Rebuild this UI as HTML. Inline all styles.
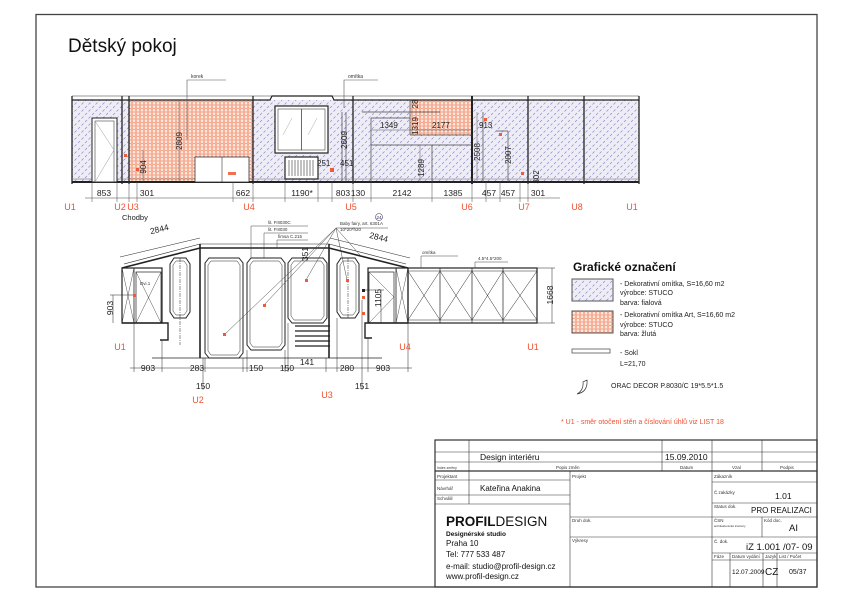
<!DOCTYPE html>
<html><head><meta charset="utf-8"><style>
html,body{margin:0;padding:0;background:#fff;}
svg{display:block;font-family:"Liberation Sans",Arial,sans-serif;}
</style></head><body>
<svg width="849" height="600" viewBox="0 0 849 600" xmlns="http://www.w3.org/2000/svg">
<defs>
<pattern id="pur" width="7" height="7" patternUnits="userSpaceOnUse">
<rect width="7" height="7" fill="#eeedf6"/>
<line x1="1" y1="3" x2="3" y2="1" stroke="#8f8ccc" stroke-width="0.7"/>
<line x1="4.5" y1="6.5" x2="6.5" y2="4.5" stroke="#8f8ccc" stroke-width="0.7"/>
</pattern>
<pattern id="ora" width="4" height="3.5" patternUnits="userSpaceOnUse">
<rect width="4" height="3.5" fill="#fde6dc"/>
<path d="M0,1.75 L1,0 L3,0 L4,1.75 L3,3.5 L1,3.5 Z" fill="none" stroke="#f29272" stroke-width="0.7"/>
</pattern>
</defs>

<rect x="36" y="14.5" width="781" height="572.5" fill="none" stroke="#444" stroke-width="1.3"/>
<text x="68" y="52" font-size="19" fill="#111">Dětský pokoj</text>

<!-- TOP ELEVATION -->
<rect x="72" y="100" width="567" height="82" fill="url(#pur)"/>
<rect x="129" y="100" width="124" height="82" fill="url(#ora)"/>
<rect x="410" y="100" width="62" height="35" fill="url(#ora)"/>
<line x1="72" y1="96" x2="639" y2="96" stroke="#777" stroke-width="0.8"/>
<polyline points="72,100 270,100 272,96 332,96 334,100 639,100" fill="none" stroke="#222" stroke-width="1.2"/>
<g stroke="#222" stroke-width="1.3">
<line x1="72" y1="96" x2="72" y2="184"/><line x1="639" y1="96" x2="639" y2="184"/>
<line x1="122" y1="96" x2="122" y2="184"/><line x1="129" y1="96" x2="129" y2="184"/>
<line x1="253" y1="96" x2="253" y2="184"/><line x1="353" y1="96" x2="353" y2="184"/>
<line x1="472" y1="96" x2="472" y2="184" stroke-width="2"/>
<line x1="528" y1="96" x2="528" y2="184"/><line x1="584" y1="96" x2="584" y2="184"/>
</g>
<line x1="72" y1="182" x2="639" y2="182" stroke="#222" stroke-width="2"/>
<line x1="72" y1="179" x2="639" y2="179" stroke="#666" stroke-width="0.5"/>
<rect x="92" y="118" width="25" height="64" fill="#fff" stroke="#222" stroke-width="1"/>
<rect x="95" y="121" width="19" height="61" fill="none" stroke="#444" stroke-width="0.6"/>
<polyline points="95,121 114,150 95,182" fill="none" stroke="#999" stroke-width="0.5"/>
<rect x="275" y="106" width="53" height="47" fill="#fff" stroke="#222" stroke-width="1.2"/>
<rect x="278" y="109" width="47" height="41" fill="none" stroke="#444" stroke-width="0.6"/>
<line x1="301.5" y1="109" x2="301.5" y2="150" stroke="#444" stroke-width="0.8"/>
<g stroke="#aaa" stroke-width="0.5"><line x1="283" y1="135" x2="292" y2="118"/><line x1="308" y1="135" x2="317" y2="118"/></g>
<rect x="285" y="157" width="33" height="22" fill="#fff" stroke="#222" stroke-width="1.2"/>
<g stroke="#333" stroke-width="0.6">
<line x1="289" y1="160" x2="289" y2="176"/><line x1="292" y1="160" x2="292" y2="176"/><line x1="295" y1="160" x2="295" y2="176"/><line x1="298" y1="160" x2="298" y2="176"/><line x1="301" y1="160" x2="301" y2="176"/><line x1="304" y1="160" x2="304" y2="176"/><line x1="307" y1="160" x2="307" y2="176"/><line x1="310" y1="160" x2="310" y2="176"/><line x1="313" y1="160" x2="313" y2="176"/>
</g>
<rect x="195" y="157" width="54" height="25" fill="#fff" stroke="#333" stroke-width="0.8"/>
<line x1="222" y1="157" x2="222" y2="182" stroke="#333" stroke-width="0.6"/>
<rect x="228" y="172" width="8" height="3" fill="#f07050"/>
<g stroke="#444" stroke-width="0.7" fill="none">
<line x1="371" y1="145" x2="472" y2="145"/><line x1="410" y1="135" x2="472" y2="135"/>
<line x1="371" y1="118" x2="410" y2="118"/><line x1="371" y1="118" x2="371" y2="182"/>
<line x1="410" y1="100" x2="410" y2="135"/><line x1="432" y1="145" x2="432" y2="182"/>
<line x1="342" y1="112" x2="342" y2="182"/><line x1="346" y1="112" x2="346" y2="182"/>
<line x1="362" y1="112" x2="440" y2="112"/>
<line x1="483" y1="112" x2="483" y2="182"/><line x1="496" y1="131" x2="508" y2="131"/>
<line x1="508" y1="131" x2="508" y2="182"/>
</g>
<g fill="#f05a3a">
<rect x="124" y="154" width="3" height="3"/><rect x="136" y="168" width="3" height="3"/>
<rect x="330" y="168" width="4" height="4"/><rect x="484" y="118" width="3" height="3"/>
<rect x="499" y="133" width="3" height="3"/><rect x="521" y="172" width="3" height="3"/>
</g>
<g stroke="#555" stroke-width="0.6" fill="none">
<polyline points="187,140 187,80 226,80"/>
<polyline points="344,108 344,80 378,80"/>
</g>
<text x="191" y="78" font-size="5" fill="#333">korek</text>
<text x="348" y="78" font-size="5" fill="#333">omítka</text>
<g font-size="8" fill="#222">
<text transform="translate(182,141) rotate(-90)" text-anchor="middle">2809</text>
<text transform="translate(146,167) rotate(-90)" text-anchor="middle">904</text>
<text transform="translate(347,140) rotate(-90)" text-anchor="middle">2609</text>
<text transform="translate(424,168) rotate(-90)" text-anchor="middle">1289</text>
<text transform="translate(418,126) rotate(-90)" text-anchor="middle">1319</text>
<text transform="translate(418,104) rotate(-90)" text-anchor="middle">28</text>
<text transform="translate(480,152) rotate(-90)" text-anchor="middle">2508</text>
<text transform="translate(511,155) rotate(-90)" text-anchor="middle">2007</text>
<text transform="translate(539,177) rotate(-90)" text-anchor="middle">302</text>
<text x="317" y="166">251</text><text x="340" y="166">451</text>
<text x="380" y="128">1349</text><text x="432" y="128">2177</text><text x="479" y="128">913</text>
</g>
<g stroke="#555" stroke-width="0.5">
<line x1="179" y1="100" x2="179" y2="182"/><line x1="143" y1="150" x2="143" y2="182"/>
<line x1="371" y1="130" x2="472" y2="130"/><line x1="420" y1="145" x2="420" y2="182"/>
<line x1="477" y1="112" x2="477" y2="182"/>
</g>
<line x1="85" y1="198" x2="560" y2="198" stroke="#444" stroke-width="0.6"/>
<g stroke="#444" stroke-width="0.5">
<line x1="92" y1="182" x2="92" y2="202"/><line x1="117" y1="182" x2="117" y2="202"/><line x1="129" y1="182" x2="129" y2="202"/><line x1="137" y1="182" x2="137" y2="202"/><line x1="233" y1="182" x2="233" y2="202"/><line x1="253" y1="182" x2="253" y2="202"/><line x1="285" y1="182" x2="285" y2="202"/><line x1="318" y1="182" x2="318" y2="202"/><line x1="332" y1="182" x2="332" y2="202"/><line x1="353" y1="182" x2="353" y2="202"/><line x1="371" y1="182" x2="371" y2="202"/><line x1="432" y1="182" x2="432" y2="202"/><line x1="472" y1="182" x2="472" y2="202"/><line x1="486" y1="182" x2="486" y2="202"/><line x1="500" y1="182" x2="500" y2="202"/><line x1="520" y1="182" x2="520" y2="202"/><line x1="528" y1="182" x2="528" y2="202"/>
</g>
<g font-size="8.5" fill="#222" text-anchor="middle">
<text x="104" y="196">853</text><text x="147" y="196">301</text><text x="243" y="196">662</text><text x="302" y="196">1190*</text><text x="343" y="196">803</text><text x="358" y="196">130</text><text x="402" y="196">2142</text><text x="453" y="196">1385</text><text x="489" y="196">457</text><text x="508" y="196">457</text><text x="538" y="196">301</text>
</g>
<g font-size="9" fill="#f05030" text-anchor="middle">
<text x="70" y="210">U1</text><text x="120" y="210">U2</text><text x="133" y="210">U3</text><text x="249" y="210">U4</text><text x="351" y="210">U5</text><text x="467" y="210">U6</text><text x="524" y="210">U7</text><text x="577" y="210">U8</text><text x="632" y="210">U1</text>
</g>
<text x="122" y="220" font-size="7.5" fill="#222">Chodby</text>
<circle cx="379" cy="217" r="3.5" fill="none" stroke="#446" stroke-width="0.6"/>
<text x="379" y="219" font-size="4.5" fill="#336" text-anchor="middle">24</text>

<!-- LOWER ELEVATION -->
<g stroke="#222" fill="none">
<polyline points="122,268 200,248 329,248 408,268" stroke-width="1.6"/>
<polyline points="124,264 200,244 329,244 406,264" stroke-width="0.6"/>
<line x1="120" y1="257" x2="200" y2="238" stroke-width="0.5"/>
<line x1="330" y1="238" x2="410" y2="258" stroke-width="0.5"/>
<line x1="200" y1="244" x2="200" y2="358" stroke-width="1.6"/>
<line x1="329" y1="244" x2="329" y2="358" stroke-width="1.6"/>
<rect x="122" y="268" width="40" height="55" stroke-width="1.2"/>
<line x1="134" y1="268" x2="134" y2="323" stroke-width="0.8"/>
<rect x="136" y="272" width="25" height="51" stroke-width="0.7"/>
<polyline points="122,268 134,323" stroke-width="0.4"/><polyline points="134,268 122,323" stroke-width="0.4"/>
<polyline points="136,272 161,323" stroke-width="0.4"/><polyline points="161,272 136,323" stroke-width="0.4"/>
<polyline points="122,323 168,323 168,340 160,340" stroke-width="1.4"/>
<rect x="368" y="268" width="40" height="55" stroke-width="1.2"/>
<line x1="396" y1="268" x2="396" y2="323" stroke-width="0.8"/>
<rect x="369" y="272" width="25" height="51" stroke-width="0.7"/>
<polyline points="369,272 394,297 369,323" stroke-width="0.4"/>
<polyline points="396,268 408,323" stroke-width="0.4"/><polyline points="408,268 396,323" stroke-width="0.4"/>
<polyline points="408,323 365,323 365,338 372,338" stroke-width="1.4"/>
<rect x="408" y="268" width="129" height="55" stroke-width="1.2"/>
<line x1="408" y1="271" x2="537" y2="271" stroke-width="0.6"/>
<line x1="408" y1="320" x2="537" y2="320" stroke-width="0.6"/>
<line x1="440" y1="268" x2="440" y2="323" stroke-width="0.7"/><line x1="472" y1="268" x2="472" y2="323" stroke-width="0.7"/><line x1="503" y1="268" x2="503" y2="323" stroke-width="0.7"/>
<path stroke-width="0.5" d="M408,271 L440,320 M440,271 L408,320 M440,271 L472,320 M472,271 L440,320 M472,271 L503,320 M503,271 L472,320 M503,271 L537,320 M537,271 L503,320"/>
<g stroke-width="1">
<path d="M174,258 L186,258 L190,264 L190,312 L186,318 L174,318 L170,312 L170,264 Z"/>
<path d="M209,258 L239,258 L243,263 L243,353 L239,358 L209,358 L205,353 L205,263 Z"/>
<path d="M251,258 L281,258 L285,263 L285,345 L281,350 L251,350 L247,345 L247,263 Z"/>
<path d="M292,258 L323,258 L327,263 L327,318 L323,323 L292,323 L288,318 L288,263 Z"/>
<path d="M341,258 L355,258 L359,264 L359,312 L355,318 L341,318 L337,312 L337,264 Z"/>
</g>
<g stroke-width="0.5">
<path d="M176,261 L184,261 L187,265 L187,311 L184,315 L176,315 L173,311 L173,265 Z"/>
<path d="M211,261 L237,261 L240,265 L240,351 L237,355 L211,355 L208,351 L208,265 Z"/>
<path d="M253,261 L279,261 L282,265 L282,343 L279,347 L253,347 L250,343 L250,265 Z"/>
<path d="M294,261 L321,261 L324,265 L324,316 L321,320 L294,320 L291,316 L291,265 Z"/>
<path d="M343,261 L353,261 L356,265 L356,311 L353,315 L343,315 L340,311 L340,265 Z"/>
<line x1="180" y1="258" x2="180" y2="345" stroke-dasharray="4,1,1,1"/>
<line x1="348" y1="258" x2="348" y2="318" stroke-dasharray="4,1,1,1"/>
</g>
<g stroke-width="1.2">
<line x1="295" y1="326" x2="330" y2="326"/><line x1="295" y1="331" x2="330" y2="331"/><line x1="295" y1="336" x2="330" y2="336"/><line x1="295" y1="341" x2="330" y2="341"/><line x1="295" y1="346" x2="330" y2="346"/>
</g>
<line x1="152" y1="358" x2="382" y2="358" stroke-width="0.7"/>
<g stroke-width="0.5">
<line x1="134" y1="323" x2="134" y2="372"/><line x1="162" y1="340" x2="162" y2="372"/><line x1="203" y1="358" x2="203" y2="390"/><line x1="205" y1="358" x2="205" y2="372"/><line x1="243" y1="358" x2="243" y2="372"/><line x1="247" y1="350" x2="247" y2="372"/><line x1="285" y1="350" x2="285" y2="372"/><line x1="288" y1="323" x2="288" y2="372"/><line x1="326" y1="358" x2="326" y2="372"/><line x1="337" y1="318" x2="337" y2="372"/><line x1="362" y1="300" x2="362" y2="390"/><line x1="368" y1="338" x2="368" y2="372"/><line x1="408" y1="323" x2="408" y2="372"/>
<line x1="130" y1="368" x2="412" y2="368"/>
<line x1="113" y1="295" x2="113" y2="323"/><line x1="110" y1="295" x2="135" y2="295"/>
<line x1="381" y1="290" x2="381" y2="323"/><line x1="364" y1="290" x2="384" y2="290"/>
<line x1="552" y1="268" x2="552" y2="323"/><line x1="537" y1="268" x2="555" y2="268"/><line x1="537" y1="323" x2="555" y2="323"/>
</g>
<g stroke-width="0.5" stroke="#444">
<polyline points="251,258 251,226 308,226"/><polyline points="264,258 264,233 308,233"/><polyline points="277,248 277,240 308,240"/>
<polyline points="388,228 336,228 224,335"/><line x1="336" y1="228" x2="264" y2="305"/><line x1="336" y1="228" x2="306" y2="280"/><line x1="336" y1="228" x2="347" y2="280"/><line x1="336" y1="228" x2="360" y2="255"/>
<polyline points="421,268 421,256 458,256"/><polyline points="475,268 475,262 508,262"/>
</g>
</g>
<g fill="#f05a3a">
<rect x="223" y="333" width="3" height="3"/><rect x="263" y="304" width="3" height="3"/><rect x="305" y="279" width="3" height="3"/><rect x="346" y="279" width="3" height="3"/><rect x="133" y="294" width="3" height="3"/><rect x="362" y="296" width="3" height="3"/><rect x="362" y="312" width="3" height="3"/>
</g>
<rect x="362" y="289" width="3" height="3" fill="#222"/>
<g font-size="4.5" fill="#333">
<text x="268" y="224">lit. P.8030C</text><text x="268" y="231">lit. P.8030</text><text x="278" y="238">fimsa C.215</text>
<text x="340" y="225">Baby fairy, art. 6301A</text><text x="340" y="231">10*20*h20</text>
<text x="422" y="254">omítka</text><text x="478" y="260">4.5*4.5*200</text>
<text x="140" y="285">Dvi.1</text>
</g>
<g font-size="8.5" fill="#222">
<text transform="translate(160,232) rotate(-14)" text-anchor="middle">2844</text>
<text transform="translate(378,240) rotate(14)" text-anchor="middle">2844</text>
<text transform="translate(113,308) rotate(-90)" text-anchor="middle">903</text>
<text transform="translate(381,298) rotate(-90)" text-anchor="middle">1105</text>
<text transform="translate(553,295) rotate(-90)" text-anchor="middle">1668</text>
<text transform="translate(308,254) rotate(-90)" text-anchor="middle">351</text>
</g>
<g font-size="8.5" fill="#222" text-anchor="middle">
<text x="148" y="371">903</text><text x="197" y="371">283</text><text x="256" y="371">150</text><text x="287" y="371">150</text><text x="307" y="365">141</text><text x="347" y="371">280</text><text x="383" y="371">903</text><text x="203" y="389">150</text><text x="362" y="389">151</text>
</g>
<g font-size="9" fill="#f05030" text-anchor="middle">
<text x="120" y="350">U1</text><text x="405" y="350">U4</text><text x="533" y="350">U1</text><text x="198" y="403">U2</text><text x="327" y="398">U3</text>
</g>

<!-- LEGEND -->
<text x="573" y="271" font-size="12" font-weight="bold" fill="#111">Grafické označení</text>
<rect x="572" y="279" width="41" height="22" fill="url(#pur)" stroke="#555" stroke-width="1"/>
<rect x="572" y="311" width="41" height="22" fill="url(#ora)" stroke="#555" stroke-width="1"/>
<rect x="572" y="349" width="38" height="4" fill="#fff" stroke="#555" stroke-width="0.8"/>
<g font-size="7" fill="#222">
<text x="620" y="286">- Dekorativní omítka, S=16,60 m2</text><text x="620" y="295">výrobce: STUCO</text><text x="620" y="305">barva: fialová</text>
<text x="620" y="317">- Dekorativní omítka Art, S=16,60 m2</text><text x="620" y="327">výrobce: STUCO</text><text x="620" y="336">barva: žlutá</text>
<text x="620" y="355">- Sokl</text><text x="620" y="366">L=21,70</text>
<text x="611" y="388">ORAC DECOR P.8030/C  19*5.5*1.5</text>
</g>
<path d="M587,380 Q588,392 577,394 Q584,390 583,382 Z" fill="none" stroke="#333" stroke-width="0.7"/>
<text x="561" y="424" font-size="7" fill="#f05030">* U1 - směr otočení stěn a číslování úhlů viz LIST 18</text>

<!-- TITLE BLOCK -->
<g stroke="#333" stroke-width="0.6" fill="none">
<rect x="435" y="440" width="382" height="147" stroke-width="1.2"/>
<line x1="435" y1="452" x2="817" y2="452"/><line x1="435" y1="462" x2="817" y2="462"/>
<line x1="435" y1="471" x2="817" y2="471" stroke-width="1.2"/>
<line x1="469" y1="440" x2="469" y2="471"/><line x1="662" y1="440" x2="662" y2="471"/><line x1="712" y1="440" x2="712" y2="471"/><line x1="762" y1="440" x2="762" y2="471"/>
<line x1="469" y1="471" x2="469" y2="504"/><line x1="435" y1="480" x2="570" y2="480"/><line x1="435" y1="495" x2="570" y2="495"/><line x1="435" y1="504" x2="570" y2="504"/>
<line x1="570" y1="471" x2="570" y2="587"/><line x1="712" y1="471" x2="712" y2="587"/>
<line x1="570" y1="517" x2="817" y2="517"/><line x1="570" y1="537" x2="817" y2="537"/>
<line x1="712" y1="482" x2="817" y2="482"/><line x1="712" y1="503" x2="817" y2="503"/>
<line x1="762" y1="517" x2="762" y2="537"/>
<line x1="712" y1="553" x2="817" y2="553"/><line x1="712" y1="560" x2="817" y2="560"/>
<line x1="730" y1="553" x2="730" y2="587"/><line x1="763" y1="553" x2="763" y2="587"/><line x1="777" y1="553" x2="777" y2="587"/>
</g>
<g font-size="8.5" fill="#111">
<text x="480" y="460">Design interiéru</text><text x="665" y="460">15.09.2010</text>
<text x="480" y="491" font-size="8">Kateřina Anakina</text>
<text x="775" y="499">1.01</text><text x="751" y="513" font-size="8">PRO REALIZACI</text>
<text x="789" y="531" font-size="9.5">AI</text>
<text x="746" y="550" font-size="9.5">iZ 1.001 /07- 09</text>
<text x="732" y="574" font-size="6.5">12.07.2009</text><text x="765" y="575" font-size="10">CZ</text><text x="789" y="574" font-size="7">05/37</text>
</g>
<g font-size="4.5" fill="#333">
<text x="437" y="469" font-size="3.5">Index změny</text><text x="556" y="469">Popis změn</text><text x="680" y="469">Datum</text><text x="732" y="469">Vzal</text><text x="780" y="469">Podpis</text>
<text x="437" y="478">Projektant</text><text x="437" y="490">Návrhář</text><text x="437" y="500">Schválil</text>
<text x="572" y="478">Projekt</text><text x="572" y="522">Druh dok.</text><text x="572" y="542">Výkresy</text>
<text x="714" y="478">Zákazník</text><text x="714" y="494">Č.zakázky</text><text x="714" y="508">Status dok.</text>
<text x="714" y="522">ČSN</text><text x="714" y="527" font-size="3">architektonické interiéry</text><text x="764" y="522">Kód doc.</text>
<text x="714" y="543">Č. dok.</text>
<text x="714" y="558">Fáze</text><text x="732" y="558">Datum vydání</text><text x="765" y="558">Jazyk</text><text x="779" y="558">List / Počet</text>
</g>
<text x="446" y="526" font-size="13.5" fill="#111"><tspan font-weight="bold">PROFIL</tspan>DESIGN</text>
<text x="446" y="536" font-size="6.5" font-weight="bold" fill="#111">Designérské studio</text>
<g font-size="8" fill="#111">
<text x="446" y="546">Praha 10</text><text x="446" y="557">Tel: 777 533 487</text><text x="446" y="569">e-mail: studio@profil-design.cz</text><text x="446" y="579">www.profil-design.cz</text>
</g>
</svg>
</body></html>
